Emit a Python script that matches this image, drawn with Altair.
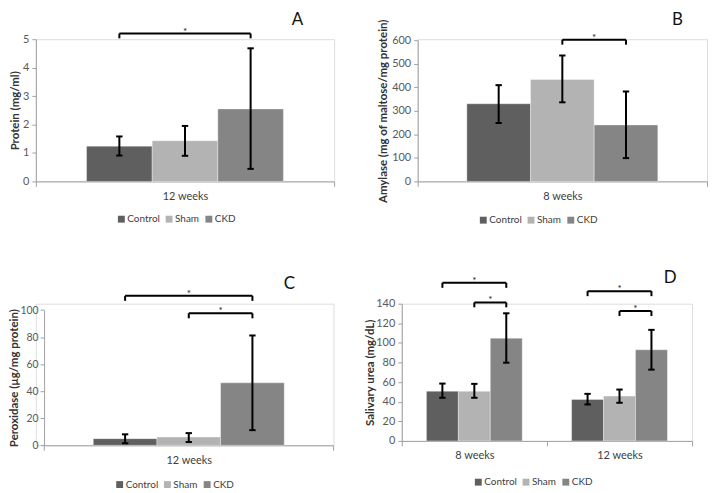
import altair as alt
import pandas as pd

groups = ["Control", "Sham", "CKD"]
colors = ["#5f5f5f", "#b3b3b3", "#858585"]
BW = 0.22
CAP = 3.2  # half cap width, px

# Panel A
a_weeks = ["12 weeks"]
a_mean = [[1.24, 1.43, 2.55]]
a_lo = [[0.91, 0.90, 0.44]]
a_hi = [[1.58, 1.95, 4.68]]
a_brackets = [[0, "Control", "CKD", 5.2, 5.03]]
a_letter = ["A", 0.877, 5.69]

# Panel B
b_weeks = ["8 weeks"]
b_mean = [[330, 433, 240]]
b_lo = [[248, 336, 99]]
b_hi = [[409, 535, 382]]
b_brackets = [[0, "Sham", "CKD", 602, 581]]
b_letter = ["B", 0.898, 687]

# Panel C
c_weeks = ["12 weeks"]
c_mean = [[4.9, 6.1, 46.2]]
c_lo = [[1.5, 2.4, 11.2]]
c_hi = [[8.1, 9.0, 81.2]]
c_brackets = [[0, "Control", "CKD", 110.5, 106.8], [0, "Sham", "CKD", 97.6, 93.9]]
c_letter = ["C", 0.848, 119.6]

# Panel D
d_weeks = ["8 weeks", "12 weeks"]
d_mean = [[50.7, 50.7, 104.8], [42.3, 45.7, 93.0]]
d_lo = [[44.0, 44.0, 79.8], [37.2, 38.9, 72.7]]
d_hi = [[58.5, 58.2, 130.2], [48.0, 52.4, 113.3]]
d_brackets = [[0, "Control", "CKD", 161.3, 156.2], [0, "Sham", "CKD", 141.3, 136.3],
              [1, "Control", "CKD", 152.8, 147.7], [1, "Sham", "CKD", 132.5, 127.4]]
d_letter = ["D", 1.849, 165.7]

FONT = "Lato"


def center(i, g):
    return i + 0.5 + (groups.index(g) - 1) * BW


def panel(weeks, mean, lo, hi, brackets, letter, ymax, ystep, ytitle,
          w, h, ox, oy, lx, ly, title_pad, lab_pad=3, lab_size=11):
    n = len(weeks)
    cap = CAP * n / w
    rows = []
    for i, wk in enumerate(weeks):
        for k, g in enumerate(groups):
            xc = center(i, g)
            rows.append(dict(week=wk, group=g, mean=mean[i][k], lo=lo[i][k],
                             hi=hi[i][k], x1=xc - BW / 2, x2=xc + BW / 2, xc=xc,
                             c1=xc - cap, c2=xc + cap, zero=0))
    df = pd.DataFrame(rows)

    br = []
    legs = []
    for (i, g1, g2, lev, leg) in brackets:
        a, b = center(i, g1), center(i, g2)
        br.append(dict(bx1=a, bx2=b, lev=lev, mid=(a + b) / 2))
        legs.append(dict(lx=a, lev=lev, leg=leg))
        legs.append(dict(lx=b, lev=lev, leg=leg))
    dbr = pd.DataFrame(br)
    dlegs = pd.DataFrame(legs)
    dlet = pd.DataFrame([dict(t=letter[0], x=letter[1], y=letter[2])])

    ticks = sorted(list(range(n + 1)) + [i + 0.5 for i in range(n)])
    label_expr = " : ".join(
        f"datum.value == {i + 0.5} ? '{wk}'" for i, wk in enumerate(weeks)) + " : ''"
    xscale = alt.Scale(domain=[0, n], nice=False, zero=False, padding=0,
                       range=[ox, ox + w])
    yscale = alt.Scale(domain=[0, ymax], nice=False, padding=0,
                       range=[oy + h, oy])
    xaxis = alt.Axis(values=ticks, labelExpr=label_expr, title=None, grid=False,
                     labelOverlap=False, labelFlush=False,
                     tickOpacity={"condition": {"test": "datum.value % 1 != 0", "value": 0},
                                  "value": 1},
                     tickSize=5, labelPadding=4, labelFontSize=11, labelColor="#404040",
                     domainColor="#a0a0a0", tickColor="#a0a0a0")
    ykw = dict(values=list(range(0, ymax + 1, ystep)), title=ytitle, grid=False,
               tickSize=4, labelPadding=lab_pad, labelFontSize=lab_size,
               labelColor="#595959",
               titleFontSize=11.5, titleFontWeight="bold", titleColor="#333333",
               titlePadding=title_pad, domainColor="#a0a0a0", tickColor="#a0a0a0")
    if ox > 0:
        ykw["offset"] = -ox
    yaxis = alt.Axis(**ykw)

    def X(f):
        return alt.X(f, scale=xscale, axis=xaxis)

    def Y(f):
        return alt.Y(f, scale=yscale, axis=yaxis)

    bars = alt.Chart(df).mark_bar(stroke="#ffffff", strokeWidth=0.6, strokeOpacity=0.6).encode(
        x=X("x1:Q"), x2="x2:Q", y=Y("mean:Q"), y2="zero:Q",
        color=alt.Color("group:N", scale=alt.Scale(domain=groups, range=colors),
                        legend=alt.Legend(orient="none", legendX=lx + ox, legendY=ly + oy,
                                          direction="horizontal", title=None,
                                          symbolType="square", symbolSize=48,
                                          symbolStrokeWidth=0, labelFontSize=10,
                                          labelColor="#404040", columnPadding=4,
                                          symbolOffset=0, labelOffset=1)))
    err = alt.Chart(df).mark_rule(color="black", strokeWidth=2).encode(
        x=X("xc:Q"), y=Y("lo:Q"), y2="hi:Q")
    cap_lo = alt.Chart(df).mark_rule(color="black", strokeWidth=2).encode(
        x=X("c1:Q"), x2="c2:Q", y=Y("lo:Q"))
    cap_hi = alt.Chart(df).mark_rule(color="black", strokeWidth=2).encode(
        x=X("c1:Q"), x2="c2:Q", y=Y("hi:Q"))
    bh = alt.Chart(dbr).mark_rule(color="black", strokeWidth=2).encode(
        x=X("bx1:Q"), x2="bx2:Q", y=Y("lev:Q"))
    bl = alt.Chart(dlegs).mark_rule(color="black", strokeWidth=2).encode(
        x=X("lx:Q"), y=Y("lev:Q"), y2="leg:Q")
    star = alt.Chart(dbr).mark_text(text="*", fontSize=10, color="#222222",
                                    baseline="alphabetic", dy=1, font=FONT).encode(
        x=X("mid:Q"), y=Y("lev:Q"))
    let = alt.Chart(dlet).mark_text(fontSize=17, color="#111111", baseline="middle",
                                    font=FONT).encode(
        x=X("x:Q"), y=Y("y:Q"), text="t:N")
    return alt.layer(bars, err, cap_lo, cap_hi, bh, bl, star, let).properties(
        width=ox + w, height=oy + h)


pA = panel(a_weeks, a_mean, a_lo, a_hi, a_brackets, a_letter, 5, 1,
           "Protein (mg/ml)", 300, 143, 0, 0, 81, 176, 2)
pB = panel(b_weeks, b_mean, b_lo, b_hi, b_brackets, b_letter, 600, 100,
           "Amylase (mg of maltose/mg protein)", 291, 142, 0, 1, 61, 176, 3)
pC = panel(c_weeks, c_mean, c_lo, c_hi, c_brackets, c_letter, 100, 20,
           "Peroxidase (µg/mg protein)", 291, 136, 8.3, 6.4, 71, 170.5, 0,
           lab_pad=2, lab_size=10.5)
pD = panel(d_weeks, d_mean, d_lo, d_hi, d_brackets, d_letter, 140, 20,
           "Salivary urea (mg/dL)", 292, 138, 0, 0, 72, 174.5, 0)

row1 = alt.hconcat(pA, pB, spacing=42).resolve_scale(color="independent")
row2 = alt.hconcat(pC, pD, spacing=30).resolve_scale(color="independent")
chart = alt.vconcat(row1, row2, spacing=43).resolve_scale(
    color="independent").properties(padding=0).configure_view(stroke=None).configure(font=FONT)

chart.save("out.html", embed_options={"renderer": "svg", "actions": False})
